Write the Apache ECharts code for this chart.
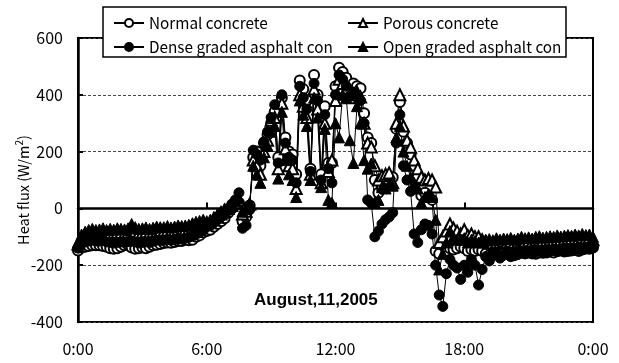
<!DOCTYPE html>
<html>
<head>
<meta charset="utf-8">
<script src="https://cdn.jsdelivr.net/npm/echarts@6/dist/echarts.min.js"></script>
<style>
  html, body { margin: 0; padding: 0; background: #fff; }
  #chart { width: 619px; height: 363px; }
</style>
</head>
<body>
<div id="chart"></div>
<script>
// 10 minute readings, 0:00 -> 24:00 (145 points)
const normalConcrete = [
  -148, -138, -135, -132, -130, -130,
  -130, -132, -135, -140, -142, -140,
  -135, -130, -128, -138, -142, -140,
  -138, -140, -135, -130, -128, -125,
  -122, -120, -121, -118, -115, -115,
  -110, -112, -110, -100, -95, -85,
  -80, -75, -65, -55, -45, -35,
  -15, 0, 10, 20, -45, -30,
  10, 180, 200, 150, 230, 260,
  300, 340, 180, 390, 250, 200,
  190, 120, 450, 420, 380, 140,
  470, 400, 120, 360, 160, 160,
  430, 495, 480, 460, 420, 440,
  430, 423, 335, 250, 230, 100,
  55, 70, 80, 90, 110, 280,
  375, 270, 230, 190, 150, 110,
  45, 55, 40, 30, -150, -160,
  -130, -150, -140, -145, -140, -135,
  -140, -150, -145, -150, -145, -150,
  -160, -165, -162, -158, -165, -160,
  -158, -160, -165, -160, -155, -158,
  -155, -158, -160, -155, -152, -155,
  -152, -155, -150, -148, -152, -150,
  -148, -146, -150, -145, -140, -142,
  -138
];
const denseAsphalt = [
  -140, -125, -118, -115, -112, -115,
  -115, -112, -118, -120, -122, -120,
  -118, -120, -117, -115, -118, -122,
  -120, -118, -120, -116, -112, -113,
  -112, -110, -112, -110, -106, -108,
  -105, -102, -98, -92, -85, -78,
  -65, -60, -50, -40, -30, -20,
  -5, 15, 30, 55, -70, -60,
  -5, 205, 190, 170, 235, 270,
  320, 365, 160, 400, 230, 180,
  170, 90, 430, 390, 350, 130,
  440, 380, 100, 330, 140, 90,
  400, 470, 455, 430, 395, 410,
  400, 380, 300, 30, 18, -100,
  -80, -55, -40, -30, -15, 230,
  330, 150, 100, 60, -90, -120,
  -75, -55, -60, -90, -200, -305,
  -345, -230, -180, -200, -210, -250,
  -200, -225, -180, -200, -270, -215,
  -170, -185, -165, -160, -175, -165,
  -160, -170, -158, -162, -155, -160,
  -155, -160, -152, -150, -158, -152,
  -150, -148, -152, -146, -150, -145,
  -145, -142, -146, -140, -143, -140,
  -135
];
const porousConcrete = [
  -125, -102, -92, -90, -88, -90,
  -88, -85, -89, -86, -88, -84,
  -86, -88, -84, -76, -82, -86,
  -85, -82, -86, -82, -80, -80,
  -80, -77, -80, -78, -74, -76,
  -74, -72, -68, -62, -58, -52,
  -55, -50, -40, -30, -20, -10,
  0, 10, 20, 30, -20, -10,
  15, 170, 150, 120, 200, 240,
  310, 320, 140, 370, 210, 150,
  140, 70, 400, 360, 320, 120,
  420, 350, 90, 300, 130, 170,
  380, 455, 440, 420, 390, 400,
  410, 392, 300, 230, 216, 150,
  100, 115, 120, 125, 90, 300,
  400, 290, 240, 215, 170, 140,
  110, 100, 105, 100, 75, -120,
  -100, -80, -55, -70, -80, -90,
  -75, -95, -90, -100, -100, -110,
  -118, -120, -122, -118, -120, -116,
  -118, -116, -120, -117, -112, -116,
  -114, -116, -112, -110, -114, -112,
  -110, -112, -108, -110, -108, -106,
  -106, -104, -106, -102, -104, -102,
  -110
];
const openAsphalt = [
  -118, -92, -82, -76, -72, -76,
  -74, -70, -76, -72, -75, -70,
  -72, -74, -70, -55, -66, -72,
  -70, -67, -72, -68, -64, -66,
  -66, -62, -67, -64, -60, -62,
  -60, -58, -52, -47, -44, -40,
  -45, -40, -30, -20, -10, 0,
  5, 15, 25, 35, -10, 0,
  18, 150, 120, 90, 180, 220,
  270, 290, 105, 340, 170, 120,
  100, 40, 380, 330, 290, 100,
  390, 320, 75, 280, 30, 20,
  300, 250, 400, 390, 240, 160,
  360, 300, 170, 140, 158, 20,
  30, 75, 70, 85, 80, 250,
  290, 200, 150, 110, 90, 70,
  20, 40, 50, 40, -40, -215,
  -160, -120, -80, -100, -110, -110,
  -105, -120, -110, -115, -120, -115,
  -110, -108, -112, -105, -110, -106,
  -108, -104, -110, -106, -100, -105,
  -102, -106, -100, -98, -103, -100,
  -98, -100, -95, -99, -96, -94,
  -96, -92, -95, -90, -94, -92,
  -100
];

const times = [];
for (let i = 0; i <= 144; i++) {
  const h = Math.floor(i / 6) % 24;
  const m = (i % 6) * 10;
  times.push(h + ':' + (m < 10 ? '0' + m : m));
}

const FONT = 'Noto Sans CJK JP';
const chart = echarts.init(document.getElementById('chart'), null, { renderer: 'canvas' });

function mkSeries(name, data, symbol, size) {
  return {
    name: name,
    type: 'line',
    data: data,
    symbol: symbol,
    symbolSize: size,
    showAllSymbol: true,
    lineStyle: { color: '#000', width: 1 },
    itemStyle: { color: '#000', borderColor: '#000', borderWidth: 1 },
    emphasis: { disabled: true },
    animation: false
  };
}

const tickAt = (idx) => idx % 36 === 0;
const legendText = { fontFamily: FONT, fontSize: 15.3, color: '#000', lineHeight: 16 };

chart.setOption({
  backgroundColor: '#fff',
  animation: false,
  textStyle: { fontFamily: FONT, color: '#000' },
  grid: {
    left: 78, right: 26, top: 38, bottom: 41,
    show: true, borderColor: '#000', borderWidth: 2
  },
  graphic: [{
    type: 'rect',
    z: 50,
    shape: { x: 103, y: 7, width: 463, height: 50 },
    style: { fill: '#fff', stroke: '#000', lineWidth: 1.5 }
  }, {
    type: 'text',
    z: 50,
    x: 23, y: 190,
    rotation: Math.PI / 2,
    style: {
      text: 'Heat flux (W/m{sup|2})',
      fontFamily: FONT, fontSize: 14.5, fill: '#000',
      align: 'center', verticalAlign: 'middle',
      rich: { sup: { fontSize: 10, verticalAlign: 'top', padding: [0, 0, 8, 0], fontFamily: FONT } }
    }
  }],
  title: {
    text: 'August,11,2005',
    left: 249, top: 287,
    textStyle: { fontFamily: 'Liberation Sans', fontWeight: 'bold', fontSize: 17, color: '#000' }
  },
  legend: [{
    data: ['Normal concrete', 'Dense graded asphalt con'],
    orient: 'vertical', left: 113, top: 15, z: 60, padding: 0,
    itemWidth: 30, itemHeight: 10, itemGap: 8,
    textStyle: legendText
  }, {
    data: ['Porous concrete', 'Open graded asphalt con'],
    orient: 'vertical', left: 347, top: 15, z: 60, padding: 0,
    itemWidth: 30, itemHeight: 10, itemGap: 8,
    textStyle: legendText
  }],
  xAxis: {
    type: 'category',
    data: times,
    boundaryGap: false,
    axisLine: { lineStyle: { color: '#000', width: 2.5 } },
    axisTick: { inside: true, length: 6, interval: tickAt, lineStyle: { color: '#000', width: 2 } },
    axisLabel: { interval: tickAt, margin: 19, fontSize: 16, color: '#000', fontFamily: FONT },
    splitLine: { show: false }
  },
  yAxis: {
    type: 'value',
    min: -400, max: 600, interval: 200,
    axisLine: { show: true, lineStyle: { color: '#000', width: 2.5 } },
    axisTick: { show: true, inside: true, length: 5, lineStyle: { color: '#000', width: 2 } },
    axisLabel: { margin: 15, fontSize: 16, color: '#000', fontFamily: FONT },
    splitLine: { show: true, lineStyle: { color: '#444', width: 1, type: [3, 2] } }
  },
  series: [
    mkSeries('Normal concrete', normalConcrete, 'emptyCircle', 10),
    mkSeries('Porous concrete', porousConcrete, 'emptyTriangle', 11),
    mkSeries('Dense graded asphalt con', denseAsphalt, 'circle', 10),
    mkSeries('Open graded asphalt con', openAsphalt, 'triangle', 11)
  ]
});
</script>
</body>
</html>
